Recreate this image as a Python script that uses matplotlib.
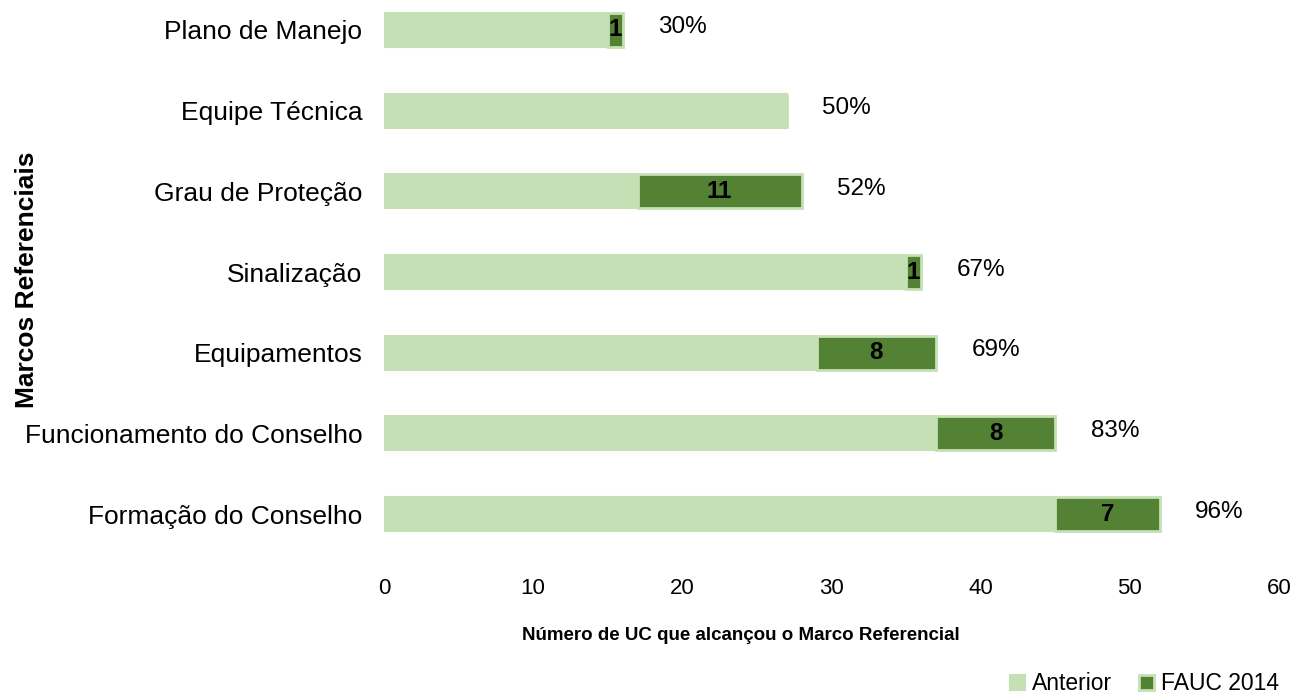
import numpy as np
import matplotlib
matplotlib.use('Agg')
from matplotlib import pyplot as plt

categories = ['Formação do Conselho', 'Funcionamento do Conselho', 'Equipamentos',
              'Sinalização', 'Grau de Proteção', 'Equipe Técnica', 'Plano de Manejo']
anterior = [45, 37, 29, 35, 17, 27, 15]
fauc2014 = [7, 8, 8, 1, 11, 0, 1]
percent_labels = ['96%', '83%', '69%', '67%', '52%', '50%', '30%']
x_ticks = [0, 10, 20, 30, 40, 50, 60]

light = '#c5e0b4'
dark = '#548235'

plt.rcParams['font.family'] = ['Liberation Sans', 'DejaVu Sans']

fig = plt.figure(figsize=(13.08, 6.93), dpi=100)
ax = fig.add_axes([384 / 1308, 128 / 693, (1279 - 384) / 1308, 565 / 693])

y = np.arange(len(categories))
ax.barh(y, anterior, height=0.42, color=light, edgecolor=light, linewidth=1.5, label='Anterior')
ax.barh(y, fauc2014, left=anterior, height=0.42, color=dark, edgecolor=light, linewidth=2, label='FAUC 2014')

for i in range(len(categories)):
    total = anterior[i] + fauc2014[i]
    if fauc2014[i] > 0:
        ax.text(anterior[i] + fauc2014[i] / 2, y[i], str(fauc2014[i]), ha='center', va='center',
                fontsize=17.5, fontweight='bold', color='black')
    ax.text(total + 4.0, y[i] + 0.03, percent_labels[i], ha='center', va='center', fontsize=17.5)

ax.set_xlim(0, 60)
ax.set_ylim(-0.63, 6.37)
ax.set_xticks(x_ticks)
ax.set_xticklabels([str(t) for t in x_ticks], fontsize=16)
ax.set_yticks(y)
ax.set_yticklabels(categories, fontsize=19)
ax.tick_params(axis='both', length=0)
ax.tick_params(axis='y', pad=15.5)
ax.tick_params(axis='x', pad=9.5)
for s in ax.spines.values():
    s.set_visible(False)

fig.text(741 / 1308, 1 - 636 / 693, 'Número de UC que alcançou o Marco Referencial',
         ha='center', va='center', fontsize=13.5, fontweight='bold')
fig.text(27 / 1308, 1 - 280 / 693, 'Marcos Referenciais', rotation=90, ha='center', va='center',
         fontsize=19, fontweight='bold')

fig.legend(*ax.get_legend_handles_labels(), loc='center right',
           bbox_to_anchor=(1279 / 1308, 1 - 684 / 693), ncol=2, frameon=False,
           fontsize=16.5, handlelength=0.65, handleheight=0.65, handletextpad=0.3,
           columnspacing=1.2, borderpad=0, borderaxespad=0)

plt.savefig('out.png', dpi=100)
